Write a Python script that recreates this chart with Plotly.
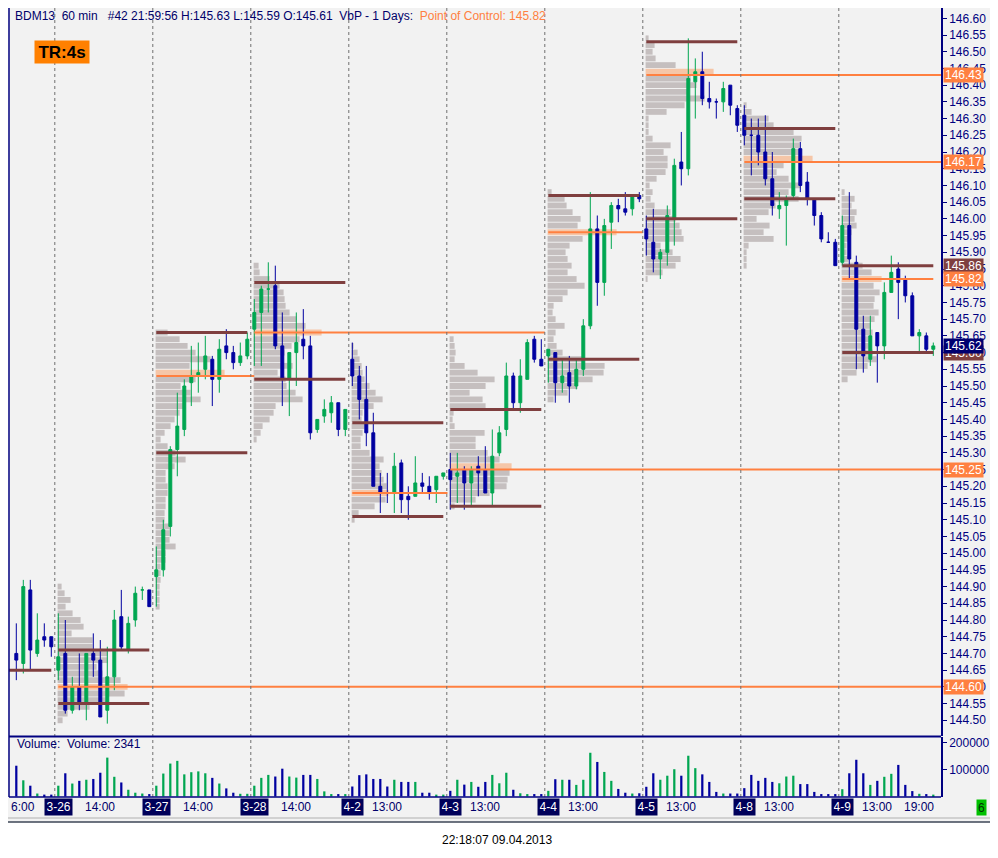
import plotly.graph_objects as go

# --- DATA -------------------------------------------------------------
# BDM13 hourly bars; index 0 = 3-25 16:00, each session has 14 bars (08:00-21:00)
OPEN = [144.70, 144.67, 144.89, 144.70, 144.75, 144.75,
        144.65, 144.70, 144.53, 144.60, 144.55, 144.70, 144.68, 144.53, 144.63, 144.81, 144.71, 144.80, 144.89, 144.89,
        144.93, 144.95, 145.08, 145.31, 145.37, 145.51, 145.53, 145.55, 145.58, 145.52, 145.62, 145.60, 145.57, 145.59,
        145.67, 145.72, 145.79, 145.80, 145.62, 145.52, 145.60, 145.64, 145.62, 145.37, 145.41, 145.42, 145.45, 145.37,
        145.58, 145.53, 145.46, 145.36, 145.20, 145.18, 145.18, 145.27, 145.17, 145.17, 145.21, 145.20, 145.19, 145.23,
        145.25, 145.23, 145.25, 145.21, 145.26, 145.25, 145.18, 145.30, 145.37, 145.53, 145.45, 145.52, 145.64, 145.58,
        145.59, 145.60, 145.51, 145.54, 145.50, 145.55, 145.68, 145.97, 145.81, 145.99, 146.04, 146.03, 146.03, 146.07,
        145.97, 145.93, 145.88, 145.90, 146.00, 146.17, 146.15, 146.41, 146.44, 146.36, 146.35, 146.35, 146.40, 146.33,
        146.31, 146.25, 146.25, 146.20, 146.12, 146.03, 146.04, 146.07, 146.21, 146.11, 146.06, 146.01, 145.93, 145.93,
        145.87, 145.98, 145.87, 145.67, 145.58, 145.66, 145.62, 145.78, 145.85, 145.82, 145.77, 145.65, 145.65, 145.61]
HIGH = [144.79, 144.92, 144.92, 144.82, 144.79, 144.75,
        144.82, 144.80, 144.63, 144.70, 144.70, 144.76, 144.74, 144.72, 144.83, 144.89, 144.81, 144.90, 144.90, 144.89,
        145.02, 145.10, 145.32, 145.48, 145.52, 145.62, 145.63, 145.65, 145.59, 145.64, 145.67, 145.62, 145.63, 145.66,
        145.76, 145.80, 145.87, 145.86, 145.72, 145.60, 145.72, 145.73, 145.65, 145.40, 145.46, 145.47, 145.45, 145.43,
        145.63, 145.56, 145.56, 145.42, 145.24, 145.24, 145.30, 145.28, 145.20, 145.29, 145.24, 145.23, 145.23, 145.24,
        145.30, 145.30, 145.26, 145.26, 145.29, 145.32, 145.37, 145.38, 145.57, 145.54, 145.58, 145.64, 145.65, 145.64,
        145.61, 145.60, 145.58, 145.59, 145.58, 145.70, 146.08, 146.01, 146.00, 146.05, 146.06, 146.08, 146.07, 146.08,
        146.01, 146.03, 145.91, 146.04, 146.18, 146.26, 146.54, 146.48, 146.50, 146.41, 146.36, 146.41, 146.40, 146.34,
        146.34, 146.30, 146.30, 146.31, 146.20, 146.08, 146.07, 146.24, 146.23, 146.14, 146.06, 146.02, 145.96, 145.94,
        146.01, 146.08, 145.89, 145.71, 145.71, 145.66, 145.81, 145.89, 145.87, 145.83, 145.78, 145.67, 145.66, 145.63]
LOW = [144.62, 144.64, 144.65, 144.69, 144.72, 144.69,
       144.62, 144.52, 144.52, 144.53, 144.50, 144.63, 144.51, 144.49, 144.59, 144.71, 144.70, 144.78, 144.86, 144.84,
       144.84, 144.93, 145.05, 145.23, 145.35, 145.44, 145.48, 145.52, 145.44, 145.48, 145.58, 145.55, 145.56, 145.58,
       145.56, 145.56, 145.72, 145.61, 145.44, 145.41, 145.50, 145.58, 145.34, 145.36, 145.39, 145.39, 145.35, 145.35,
       145.50, 145.40, 145.32, 145.20, 145.12, 145.15, 145.12, 145.12, 145.10, 145.17, 145.18, 145.16, 145.15, 145.22,
       145.13, 145.15, 145.13, 145.14, 145.17, 145.18, 145.14, 145.29, 145.35, 145.43, 145.42, 145.52, 145.57, 145.56,
       145.51, 145.45, 145.48, 145.45, 145.49, 145.53, 145.67, 145.74, 145.77, 145.91, 145.99, 146.01, 146.01, 146.05,
       145.89, 145.84, 145.82, 145.86, 145.92, 146.10, 146.13, 146.30, 146.34, 146.33, 146.30, 146.32, 146.31, 146.26,
       146.22, 146.13, 146.16, 146.10, 146.01, 146.00, 145.92, 146.06, 146.08, 146.04, 145.98, 145.93, 145.93, 145.86,
       145.86, 145.82, 145.55, 145.54, 145.56, 145.51, 145.58, 145.78, 145.70, 145.75, 145.65, 145.60, 145.60, 145.59]
CLOSE = [144.68, 144.90, 144.71, 144.74, 144.74, 144.72,
         144.69, 144.53, 144.60, 144.55, 144.70, 144.68, 144.51, 144.63, 144.80, 144.72, 144.79, 144.88, 144.89, 144.84,
         144.95, 145.07, 145.31, 145.38, 145.50, 145.53, 145.54, 145.59, 145.52, 145.61, 145.60, 145.57, 145.59, 145.64,
         145.72, 145.79, 145.79, 145.62, 145.52, 145.60, 145.63, 145.62, 145.36, 145.40, 145.43, 145.45, 145.37, 145.43,
         145.53, 145.46, 145.36, 145.20, 145.18, 145.18, 145.26, 145.16, 145.16, 145.21, 145.20, 145.18, 145.23, 145.24,
         145.22, 145.24, 145.21, 145.25, 145.24, 145.18, 145.29, 145.36, 145.53, 145.45, 145.53, 145.63, 145.58, 145.56,
         145.61, 145.51, 145.53, 145.50, 145.55, 145.68, 145.97, 145.81, 145.98, 146.04, 146.03, 146.02, 146.07, 146.06,
         145.94, 145.88, 145.90, 146.01, 146.16, 146.15, 146.42, 146.44, 146.36, 146.35, 146.35, 146.39, 146.34, 146.28,
         146.25, 146.25, 146.20, 146.12, 146.04, 146.04, 146.06, 146.21, 146.10, 146.06, 146.01, 145.94, 145.93, 145.86,
         145.98, 145.88, 145.67, 145.59, 145.65, 145.62, 145.78, 145.84, 145.81, 145.77, 145.65, 145.66, 145.61, 145.62]
VOLUME = [114000, 60000, 40000, 11000, 7000, 7000,
          40000, 86000, 48000, 58000, 62000, 65000, 88000, 144000, 73000, 52000, 25000, 14000, 11000, 9000,
          40000, 85000, 122000, 132000, 82000, 90000, 93000, 86000, 69000, 48000, 30000, 14000, 10000, 10000,
          40000, 69000, 80000, 74000, 103000, 74000, 70000, 80000, 80000, 65000, 19000, 9000, 9000, 9000,
          37000, 79000, 82000, 65000, 65000, 37000, 62000, 54000, 54000, 54000, 14000, 14000, 7000, 7000,
          21000, 62000, 44000, 54000, 36000, 54000, 80000, 49000, 88000, 25000, 12000, 9000, 9000, 9000,
          21000, 64000, 62000, 62000, 43000, 62000, 162000, 128000, 91000, 58000, 28000, 14000, 11000, 12000,
          36000, 86000, 62000, 77000, 101000, 77000, 151000, 105000, 82000, 54000, 17000, 11000, 11000, 11000,
          31000, 80000, 58000, 69000, 54000, 49000, 74000, 77000, 46000, 46000, 17000, 9000, 9000, 9000,
          27000, 86000, 136000, 86000, 43000, 58000, 73000, 84000, 117000, 43000, 20000, 10000, 9000, 7000]

DAY_LABELS = ["3-26", "3-27", "3-28", "4-2", "4-3", "4-4", "4-5", "4-8", "4-9"]
DAY_FIRST_BAR = [6, 20, 34, 48, 62, 76, 90, 104, 118]
TIME_LABELS = ["14:00", "14:00", "14:00", "13:00", "13:00", "13:00", "13:00", "13:00", "13:00", "19:00"]
TIME_LABEL_BARS = [12, 26, 40, 53, 67, 81, 95, 109, 123, 129]

# value area / point of control per session
VA_HIGH = [144.71, 145.66, 145.81, 145.39, 145.43, 146.07, 146.53, 146.27, 145.86]
VA_LOW = [144.55, 145.30, 145.52, 145.11, 145.14, 145.58, 146.00, 146.06, 145.60]
POC = [144.60, 145.53, 145.66, 145.18, 145.25, 145.96, 146.43, 146.17, 145.82]
POC_LAST_BAR = [132.1, 34, 75.5, 61.6, 132.1, 89.5, 132.1, 132.1, 131]
PREV_VA_LOW = 144.65

# volume at price, rows of 0.02 from the top price downwards
PROFILE_TOP = [144.90, 145.66, 145.86, 145.62, 145.64, 146.08, 146.54, 146.34, 146.08]
VBP_3_26 = [4, 7, 13, 8, 15, 23, 26, 14, 35, 35, 50, 50, 39, 45, 63, 70, 67, 50, 32, 10, 5]
VBP_3_27 = [12, 24, 32, 40, 55, 34, 69, 40, 25, 35, 45, 30, 24, 19, 15, 9, 5, 12, 20, 30, 19,
            10, 10, 12, 12, 10, 10, 9, 9, 14, 14, 14, 20, 10, 10, 5, 5, 5, 4, 4, 4, 4]
VBP_3_28 = [5, 6, 16, 26, 30, 31, 32, 36, 43, 52, 68, 46, 38, 31, 27, 39, 24, 32, 33, 42, 49, 22, 20, 16, 9, 7, 3]
VBP_4_2 = [2, 6, 8, 10, 11, 13, 18, 24, 31, 22, 11, 10, 13, 11, 9, 9, 18, 32, 28, 30, 32, 35, 37, 34, 23, 7, 3]
VBP_4_3 = [4, 5, 6, 5, 15, 28, 45, 36, 20, 33, 36, 4, 3, 5, 35, 26, 26, 38, 50, 62, 60, 58, 57, 40, 26, 5]
VBP_4_4 = [4, 17, 19, 25, 33, 30, 69, 35, 22, 18, 20, 24, 20, 29, 37, 20, 15, 6, 5, 8, 17, 8, 6, 9,
           15, 35, 57, 56, 45, 30, 20, 6]
VBP_4_5 = [3, 9, 7, 10, 30, 68, 45, 51, 42, 59, 39, 21, 3, 3, 3, 7, 25, 18, 22, 22, 20, 11, 4, 7, 5,
           9, 25, 30, 34, 36, 38, 15, 27, 35, 30, 17, 2]
VBP_4_8 = [3, 8, 25, 30, 50, 58, 56, 58, 69, 40, 33, 45, 57, 45, 55, 32, 25, 13, 26, 20, 30, 5, 3, 3, 3]
VBP_4_9 = [3, 13, 10, 15, 13, 15, 10, 8, 5, 5, 7, 21, 30, 40, 32, 38, 33, 32, 37, 33, 29, 31, 30, 28,
           31, 35, 26, 15, 6]
PROFILES = [VBP_3_26, VBP_3_27, VBP_3_28, VBP_4_2, VBP_4_3, VBP_4_4, VBP_4_5, VBP_4_8, VBP_4_9]

FLAG_PRICES = [146.43, 146.17, 145.86, 145.82, 145.60, 145.62, 145.25, 144.60]
FLAG_KINDS = ["poc", "poc", "va", "poc", "va", "last", "poc", "poc"]
VOL_TICKS = [100000, 200000]

# --- STYLE -------------------------------------------------------------
UP, DOWN = "#00A651", "#0000A0"
NAVY = "#000080"
POC_COL, VA_COL = "#FF8040", "#7F3F3F"
BG = "#F2F2F2"
FONT = "Liberation Sans, Arial, sans-serif"
FLAG_COLORS = {"poc": POC_COL, "va": VA_COL, "last": "#000070"}

FIG_W, FIG_H = 982, 842
M_L, M_R, M_T, M_B = 1, 49, 0, 53
PLOT_W = FIG_W - M_L - M_R
PLOT_H = FIG_H - M_T - M_B
X_RANGE = [-1.043, 132.1]
PX_PER_BAR = 7.0


def paper_x(px):
    return (px - M_L) / PLOT_W


def paper_y(py):
    return 1 - (py - M_T) / PLOT_H


fig = go.Figure()
bars = list(range(len(OPEN)))

# volume profiles (drawn first, under everything)
for first, top, vols in zip(DAY_FIRST_BAR, PROFILE_TOP, PROFILES):
    levels = [round(top - 0.02 * i, 2) for i in range(len(vols))]
    peak = max(vols)
    colors = ["#F5C6A8" if v == peak else "#C5BFBF" for v in vols]
    fig.add_trace(go.Bar(
        y=levels, x=[v / PX_PER_BAR for v in vols], base=first - 0.1,
        orientation="h", width=0.0175, marker=dict(color=colors, line=dict(width=0)),
        hoverinfo="skip"))

# value area lines and points of control
fig.add_trace(go.Scatter(x=[X_RANGE[0], 5], y=[PREV_VA_LOW] * 2, mode="lines",
                         line=dict(color=VA_COL, width=3), hoverinfo="skip"))
for first, vah, val, poc, poc_end in zip(DAY_FIRST_BAR, VA_HIGH, VA_LOW, POC, POC_LAST_BAR):
    for level in (vah, val):
        fig.add_trace(go.Scatter(x=[first, first + 13], y=[level, level], mode="lines",
                                 line=dict(color=VA_COL, width=3), hoverinfo="skip"))
    fig.add_trace(go.Scatter(x=[first, poc_end], y=[poc, poc], mode="lines",
                             line=dict(color=POC_COL, width=2), hoverinfo="skip"))

# candles
fig.add_trace(go.Candlestick(
    x=bars, open=OPEN, high=HIGH, low=LOW, close=CLOSE,
    increasing=dict(line=dict(color=UP, width=1), fillcolor=UP),
    decreasing=dict(line=dict(color=DOWN, width=1), fillcolor=DOWN),
    whiskerwidth=0, hoverinfo="skip"))

# volume colours follow the candle direction
vol_colors = []
direction = UP
for i in bars:
    if CLOSE[i] > OPEN[i]:
        direction = UP
    elif CLOSE[i] < OPEN[i]:
        direction = DOWN
    vol_colors.append(direction)
fig.add_trace(go.Bar(x=bars, y=VOLUME, yaxis="y2", width=0.32,
                     marker=dict(color=vol_colors, line=dict(width=0)), hoverinfo="skip"))

# --- SHAPES ------------------------------------------------------------
shapes = []
for first in DAY_FIRST_BAR:
    shapes.append(dict(type="line", xref="x", yref="paper", x0=first - 0.5, x1=first - 0.5,
                       y0=0, y1=1, line=dict(color="#707070", width=1, dash="dot")))
sep_y = paper_y(728.5)
shapes += [
    dict(type="line", xref="paper", yref="paper", x0=0, x1=1, y0=sep_y, y1=sep_y,
         line=dict(color=NAVY, width=2)),
    dict(type="line", xref="paper", yref="paper", x0=0, x1=1, y0=0, y1=0,
         line=dict(color=NAVY, width=1.5)),
    dict(type="line", xref="paper", yref="paper", x0=0, x1=0, y0=0, y1=1,
         line=dict(color=NAVY, width=1.5)),
    dict(type="line", xref="paper", yref="paper", x0=paper_x(0), x1=paper_x(FIG_W), y0=paper_y(810), y1=paper_y(810),
         line=dict(color="#B0B0B0", width=1)),
    dict(type="rect", xref="paper", yref="paper", x0=paper_x(0), x1=paper_x(FIG_W), y0=paper_y(FIG_H), y1=paper_y(814),
         fillcolor="white", line=dict(width=0), layer="below"),
    dict(type="line", xref="paper", yref="paper", x0=paper_x(0), x1=paper_x(FIG_W), y0=paper_y(814), y1=paper_y(814),
         line=dict(color="#3C4656", width=1.5)),
]

# --- ANNOTATIONS -------------------------------------------------------
ann = []
ann.append(dict(
    xref="paper", yref="paper", x=paper_x(5), y=paper_y(8), xanchor="left", yanchor="middle",
    showarrow=False, font=dict(family=FONT, size=12, color="#00006A"),
    text="BDM13&nbsp;&nbsp;60 min&nbsp;&nbsp;&nbsp;#42 21:59:56 H:145.63 L:145.59 O:145.61&nbsp;&nbsp;VbP - 1 Days:&nbsp;&nbsp;"
         "<span style='color:#FF8040'>Point of Control: 145.82</span>"))
ann.append(dict(
    xref="paper", yref="paper", x=paper_x(54), y=paper_y(44), xanchor="center", yanchor="middle",
    showarrow=False, text="<b>TR:4s</b>", bgcolor="#FF8000", width=50, height=18, borderpad=2,
    font=dict(family=FONT, size=17, color="black")))
ann.append(dict(
    xref="paper", yref="paper", x=paper_x(7), y=paper_y(736), xanchor="left", yanchor="middle",
    showarrow=False, text="Volume:&nbsp;&nbsp;Volume: 2341",
    font=dict(family=FONT, size=12, color="#00006A")))

for price, kind in zip(FLAG_PRICES, FLAG_KINDS):
    ann.append(dict(
        xref="paper", yref="y", x=1, y=price, xanchor="left", yanchor="middle", xshift=2,
        showarrow=False, text=f"{price:.2f}", bgcolor=FLAG_COLORS[kind], height=12, borderpad=1,
        font=dict(family=FONT, size=12, color="white")))

label_y = paper_y(799)
for label, first in zip(DAY_LABELS, DAY_FIRST_BAR):
    ann.append(dict(xref="x", yref="paper", x=first, y=label_y, xanchor="center", yanchor="middle",
                    showarrow=False, text=label, bgcolor="#00005A", height=13, borderpad=1.5,
                    font=dict(family=FONT, size=12, color="white")))
for label, bar in zip(TIME_LABELS, TIME_LABEL_BARS):
    ann.append(dict(xref="x", yref="paper", x=bar, y=label_y, xanchor="center", yanchor="middle",
                    showarrow=False, text=label, font=dict(family=FONT, size=12, color="#00006A")))
ann.append(dict(xref="paper", yref="paper", x=0, y=label_y, xanchor="left", yanchor="middle",
                showarrow=False, text="6:00", font=dict(family=FONT, size=12, color="#00006A")))
ann.append(dict(xref="paper", yref="paper", x=paper_x(973), y=paper_y(799.5), xanchor="center",
                yanchor="middle", showarrow=False, text="6", bgcolor="#00C000", height=13, borderpad=1,
                font=dict(family=FONT, size=12, color="#003000")))
ann.append(dict(xref="paper", yref="paper", x=paper_x(489), y=paper_y(832), xanchor="center",
                yanchor="middle", showarrow=False, text="22:18:07 09.04.2013",
                font=dict(family=FONT, size=12, color="black")))

# --- LAYOUT ------------------------------------------------------------
axis_font = dict(family=FONT, size=12, color=NAVY)
fig.update_layout(
    width=FIG_W, height=FIG_H,
    margin=dict(l=M_L, r=M_R, t=M_T, b=M_B, pad=0),
    paper_bgcolor=BG, plot_bgcolor=BG,
    showlegend=False, hovermode=False,
    barmode="overlay", boxgap=0.4,
    xaxis=dict(range=X_RANGE, visible=False, fixedrange=True, anchor="y2",
               rangeslider=dict(visible=False)),
    yaxis=dict(domain=[paper_y(728), 1], range=[144.453, 146.6308], side="right", anchor="x",
               tick0=144.5, dtick=0.05, tickformat=".2f", ticks="outside", ticklen=4,
               tickcolor=NAVY, showline=True, linecolor=NAVY, linewidth=1.5,
               showgrid=False, zeroline=False, tickfont=axis_font, fixedrange=True, automargin=False),
    yaxis2=dict(domain=[0, paper_y(729)], range=[-1852, 220370], side="right", anchor="x",
                tickvals=VOL_TICKS, ticktext=[str(v) for v in VOL_TICKS], ticks="outside", ticklen=4,
                tickcolor=NAVY, showline=True, linecolor=NAVY, linewidth=1.5,
                showgrid=False, zeroline=False, tickfont=axis_font, fixedrange=True, automargin=False),
    shapes=shapes,
    annotations=ann,
)

fig.write_html("out.html")
